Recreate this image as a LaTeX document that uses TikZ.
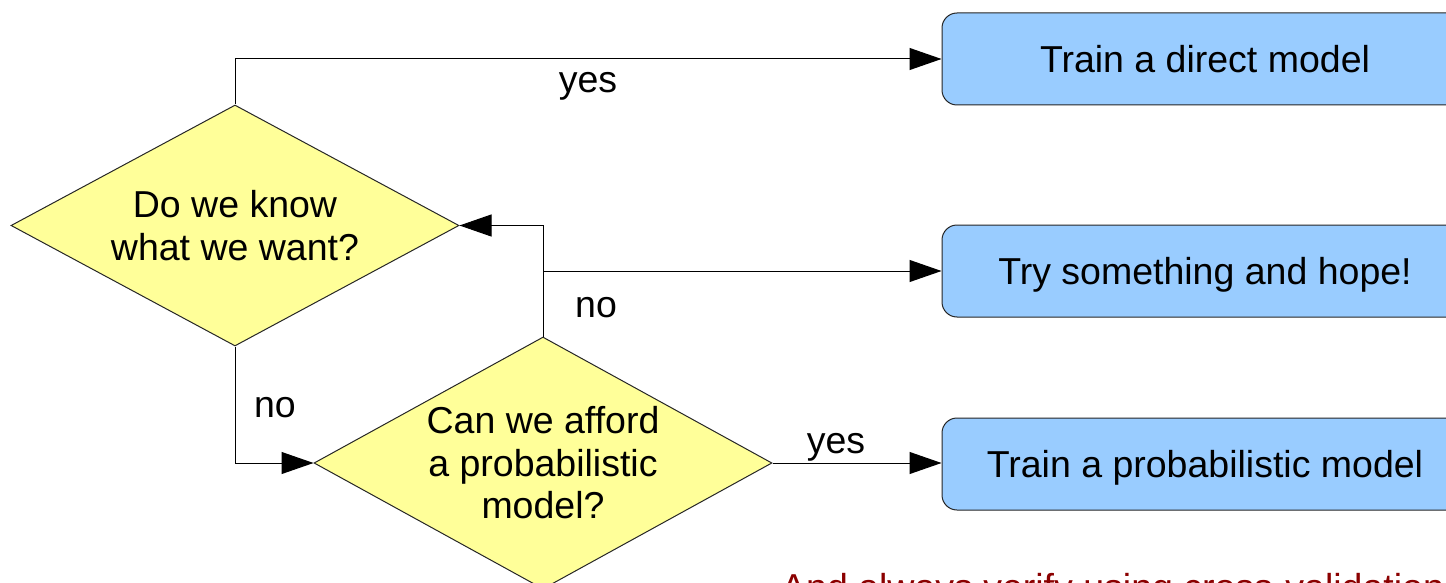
\documentclass[tikz,border=0pt]{standalone}
\usepackage{fontspec}
\setmainfont{Liberation Sans}
\usetikzlibrary{shapes.geometric,arrows.meta}
\definecolor{qfill}{HTML}{FFFF99}
\definecolor{afill}{HTML}{99CCFF}
\definecolor{notered}{HTML}{8B0000}
\tikzset{
  base font/.style={font=\fontsize{37.5}{42.5}\selectfont},
  question/.style={shape=diamond, draw=black!85, fill=qfill, line width=1pt,
    inner sep=0pt, align=center, base font},
  action/.style={shape=rectangle, draw=black!85, fill=afill, line width=1pt,
    rounded corners=15pt, minimum width=526pt, minimum height=92pt,
    inner sep=0pt, text height=35pt, text depth=8pt, base font},
  flow/.style={draw=black, line width=1pt,
    -{Triangle[length=32pt,width=22pt]}},
  answer/.style={base font, inner sep=0pt, anchor=base}
}
\begin{document}
\begin{tikzpicture}[x=1pt,y=-1pt]
\useasboundingbox (0,0) rectangle (1446,583);
\clip (0,0) rectangle (1446,583);

% decisions
\node[question, aspect=1.86, minimum width=448pt, minimum height=241pt]
  (know) at (235,225.5) {Do we know\\what we want?};
\node[question, aspect=1.82, minimum width=458pt, minimum height=252pt]
  (afford) at (543,463) {Can we afford\\a probabilistic\\model?};

% outcomes
\node[action] (direct) at (1205,59) {Train a direct model};
\node[action] (hope)   at (1205,271) {Try something and hope!};
\node[action] (prob)   at (1205,464) {Train a probabilistic model};

% connectors
\draw[flow] (know.north) |- (direct.west);
\draw[flow] (afford.north) |- (know.east);
\coordinate (split) at (afford.north |- hope.west);
\draw[flow] (split) -- (hope.west);
\draw[flow] (know.south) |- (afford.west);
\draw[flow] (afford.east) -- (afford.east -| prob.west);

% answer labels
\node[answer] (yes1) at (588,93) {yes};
\node[answer] (no1)  at (596,317) {no};
\node[answer] (no2)  at (275,417) {no};
\node[answer] (yes2) at (836,453) {yes};

% closing note
\node[base font, text=notered, anchor=base west, inner sep=0pt]
  (note) at (781,600) {And always verify using cross-validation!};
\end{tikzpicture}
\end{document}
